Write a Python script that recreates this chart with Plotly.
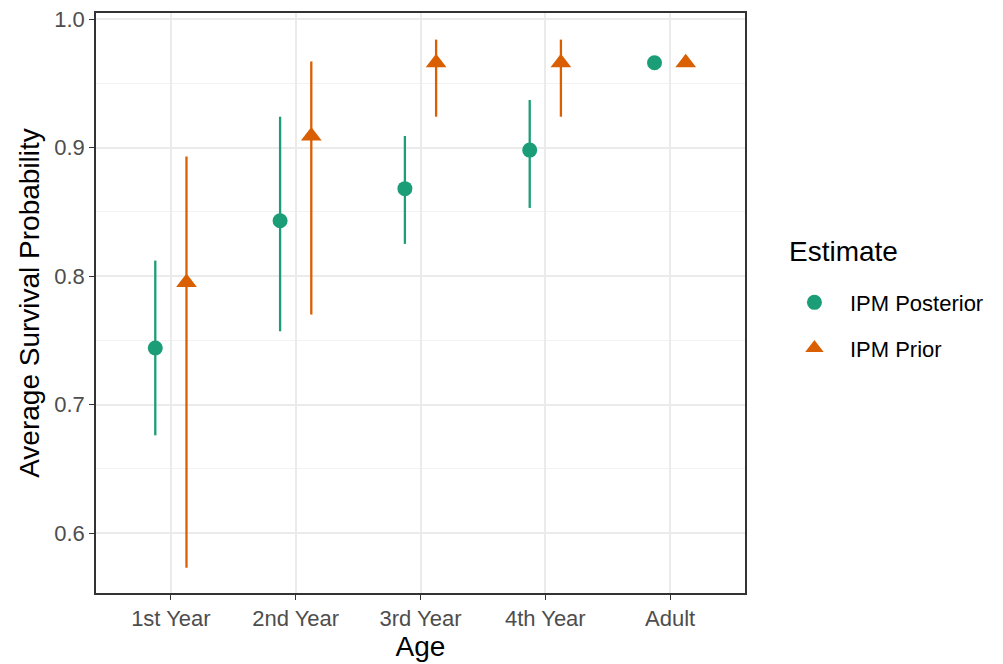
import plotly.graph_objects as go

ages = ["1st Year", "2nd Year", "3rd Year", "4th Year", "Adult"]
post_mean = [0.744, 0.843, 0.868, 0.898, 0.966]
post_lo = [0.676, 0.757, 0.825, 0.853, None]
post_hi = [0.812, 0.924, 0.909, 0.937, None]
prior_mean = [0.795, 0.909, 0.966, 0.966, 0.966]
prior_lo = [0.573, 0.770, 0.924, 0.924, None]
prior_hi = [0.893, 0.967, 0.984, 0.984, None]

GREEN = "#1B9E77"
ORANGE = "#D95F02"
FONT = "Liberation Sans, Arial, sans-serif"
dodge = 0.125

def errs(mean, lo, hi):
    plus = [(h - m) if h is not None else 0 for m, h in zip(mean, hi)]
    minus = [(m - l) if l is not None else 0 for m, l in zip(mean, lo)]
    return plus, minus

fig = go.Figure()
idx = list(range(len(ages)))
for name, mean, lo, hi, col, sym, size, off in [
    ("IPM Posterior", post_mean, post_lo, post_hi, GREEN, "circle", 15, -dodge),
    ("IPM Prior", prior_mean, prior_lo, prior_hi, ORANGE, "triangle-up", 18, dodge),
]:
    plus, minus = errs(mean, lo, hi)
    fig.add_trace(go.Scatter(
        x=[i + off for i in idx], y=mean, mode="markers", name=name, legendgroup=name,
        marker=dict(color=col, symbol=sym, size=size, line=dict(width=0)),
        error_y=dict(type="data", symmetric=False, array=plus, arrayminus=minus,
                     color=col, thickness=2.3, width=0),
    ))

fig.update_layout(
    width=1003, height=664,
    margin=dict(l=96, r=258, t=13, b=71),
    plot_bgcolor="white", paper_bgcolor="white",
    font=dict(family=FONT, color="#000000"),
    showlegend=True,
    legend=dict(
        font=dict(size=22, color="#000000"),
        x=1.0523, y=0.537, xanchor="left", yanchor="top",
        itemsizing="trace", tracegroupgap=14, itemwidth=61,
    ),
    annotations=[dict(
        text="Estimate", xref="paper", yref="paper", x=1.0647, y=0.588,
        xanchor="left", yanchor="middle", showarrow=False,
        font=dict(size=28, color="#000000", family=FONT),
    )],
)
fig.update_xaxes(
    range=[-0.6, 4.6], tickvals=idx, ticktext=ages,
    showgrid=True, gridcolor="#EBEBEB", gridwidth=1.5,
    ticks="outside", ticklen=5, tickwidth=1.3, tickcolor="#333333",
    tickfont=dict(size=22, color="#4D4D4D", family=FONT),
    title=dict(text="Age", font=dict(size=28, color="#000000"), standoff=2),
    showline=True, linecolor="#333333", linewidth=1.5, mirror=True, zeroline=False,
    automargin=False,
)
fig.update_yaxes(
    range=[0.5533, 1.0047], tickvals=[0.6, 0.7, 0.8, 0.9, 1.0],
    ticktext=["0.6", "0.7", "0.8", "0.9", "1.0"],
    showgrid=True, gridcolor="#EBEBEB", gridwidth=1.5,
    minor=dict(tickvals=[0.65, 0.75, 0.85, 0.95], showgrid=True, gridcolor="#F2F2F2", gridwidth=1, ticks=""),
    ticks="outside", ticklen=5, tickwidth=1.3, tickcolor="#333333",
    tickfont=dict(size=22, color="#4D4D4D", family=FONT),
    title=dict(text="Average Survival Probability", font=dict(size=28, color="#000000"), standoff=6),
    showline=True, linecolor="#333333", linewidth=1.5, mirror=True, zeroline=False,
    automargin=False,
)

fig.write_html("out.html")
